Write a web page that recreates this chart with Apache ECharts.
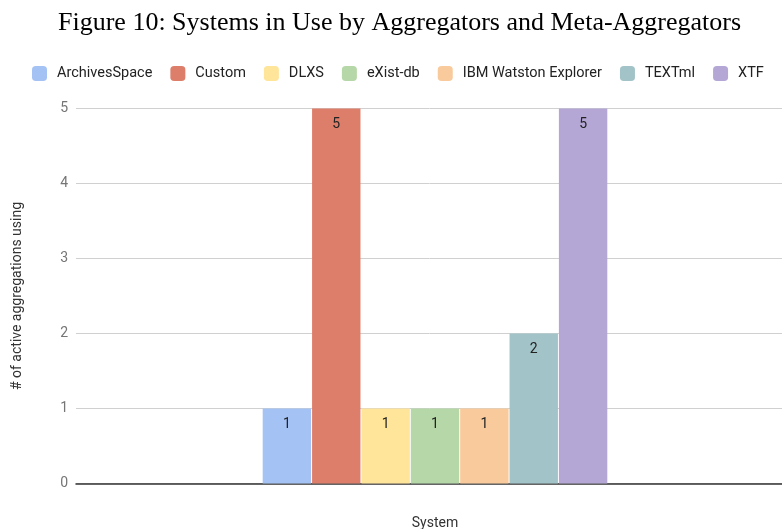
<!DOCTYPE html>
<html>
<head>
<meta charset="utf-8">
<script src="https://cdn.jsdelivr.net/npm/echarts@6/dist/echarts.min.js"></script>
<style>html,body{margin:0;padding:0;background:#fff;}#c{width:782px;height:529px;}</style>
</head>
<body>
<div id="c"></div>
<script>
const categories = ['System'];
const seriesNames = ['ArchivesSpace', 'Custom', 'DLXS', 'eXist-db', 'IBM Watston Explorer', 'TEXTml', 'XTF'];
const seriesValues = [1, 5, 1, 1, 1, 2, 5];
const seriesColors = ['#a4c2f4', '#dd7e6b', '#ffe599', '#b6d7a8', '#f9cb9c', '#a2c4c9', '#b4a7d6'];
const yTicks = [0, 1, 2, 3, 4, 5];

const chart = echarts.init(document.getElementById('c'), null, {renderer: 'canvas'});
const series = seriesNames.map((name, i) => ({
  name: name,
  type: 'bar',
  data: [seriesValues[i]],
  barWidth: 48.4,
  barGap: '2%',
  itemStyle: {color: seriesColors[i]},
  label: {
    show: true,
    position: 'insideTop',
    distance: 9,
    color: '#222',
    fontFamily: 'Roboto',
    fontSize: 14
  }
}));

chart.setOption({
  animation: false,
  backgroundColor: '#fff',
  title: {
    text: 'Figure 10: Systems in Use by Aggregators and Meta-Aggregators',
    left: 58,
    top: 10,
    padding: 0,
    textStyle: {fontFamily: 'Liberation Serif', fontSize: 26, fontWeight: 'normal', color: '#000'}
  },
  legend: {
    top: 66,
    left: 32,
    width: 750,
    padding: 0,
    itemWidth: 15,
    itemHeight: 15,
    itemGap: 18,
    icon: 'roundRect',
    data: seriesNames,
    textStyle: {fontFamily: 'Roboto', fontSize: 14.5, color: '#222', padding: [0, 0, 0, 5]}
  },
  grid: {left: 76, right: -12, top: 108.5, bottom: 45.5, containLabel: false, outerBoundsMode: 'none'},
  xAxis: {
    type: 'category',
    data: categories,
    name: 'System',
    nameLocation: 'middle',
    nameGap: 33,
    nameTextStyle: {fontFamily: 'Roboto', fontSize: 14, color: '#333'},
    axisLabel: {show: false},
    axisTick: {show: false},
    axisLine: {lineStyle: {color: '#333', width: 1.5}}
  },
  yAxis: {
    type: 'value',
    min: yTicks[0],
    max: yTicks[yTicks.length - 1],
    interval: 1,
    name: '# of active aggregations using',
    nameLocation: 'middle',
    nameGap: 52,
    nameTextStyle: {fontFamily: 'Roboto', fontSize: 14, color: '#333'},
    axisLabel: {fontFamily: 'Roboto', fontSize: 14, color: '#757575', margin: 8},
    splitLine: {lineStyle: {color: '#d0d0d0', width: 1}},
    axisLine: {show: false},
    axisTick: {show: false}
  },
  series: series
});
</script>
</body>
</html>
